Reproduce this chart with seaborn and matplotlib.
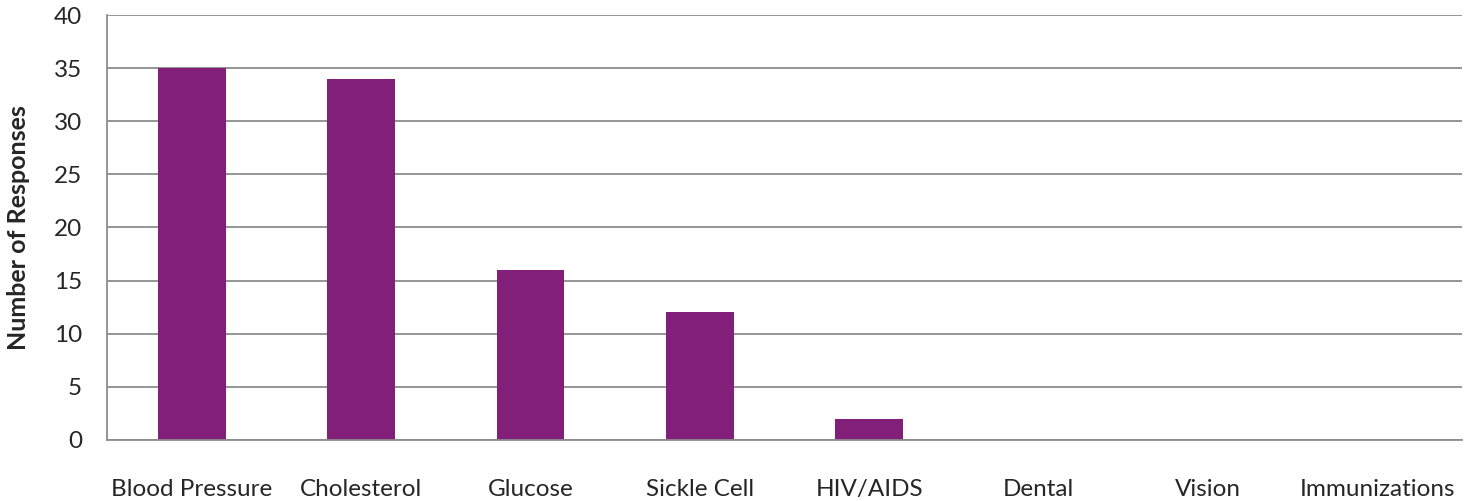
import seaborn as sns
import pandas as pd
from matplotlib import pyplot as plt

categories = ['Blood Pressure', 'Cholesterol', 'Glucose', 'Sickle Cell', 'HIV/AIDS',
              'Dental', 'Vision', 'Immunizations']
responses = [35, 34, 16, 12, 2, 0, 0, 0]

df = pd.DataFrame({'screening': categories, 'responses': responses})

sns.set_style('white')
plt.rcParams['font.family'] = ['Lato', 'DejaVu Sans']

fig = plt.figure(figsize=(14.76, 5.01), dpi=100)
ax = fig.add_axes([0.0725, 0.122, 0.918, 0.848])
sns.barplot(data=df, x='screening', y='responses', color='#822079', width=0.4,
            saturation=1, linewidth=0, ax=ax)

ax.set_ylim(0, 40)
ax.set_yticks(range(0, 41, 5))
ax.yaxis.grid(True, color='#8c8c8c', linewidth=1.3)
ax.set_axisbelow(True)
for s in ['top', 'right']:
    ax.spines[s].set_visible(False)
for s in ['left', 'bottom']:
    ax.spines[s].set_color('#8c8c8c')
    ax.spines[s].set_linewidth(1.3)
ax.tick_params(axis='y', length=6, color='#8c8c8c', width=1.3, labelsize=17.5, pad=12)
ax.tick_params(axis='x', length=0, labelsize=17.5, pad=28)
ax.set_xlabel(None)
ax.set_ylabel('Number of Responses', fontsize=18, fontweight='bold', labelpad=17)

fig.savefig('out.png', dpi=100)
